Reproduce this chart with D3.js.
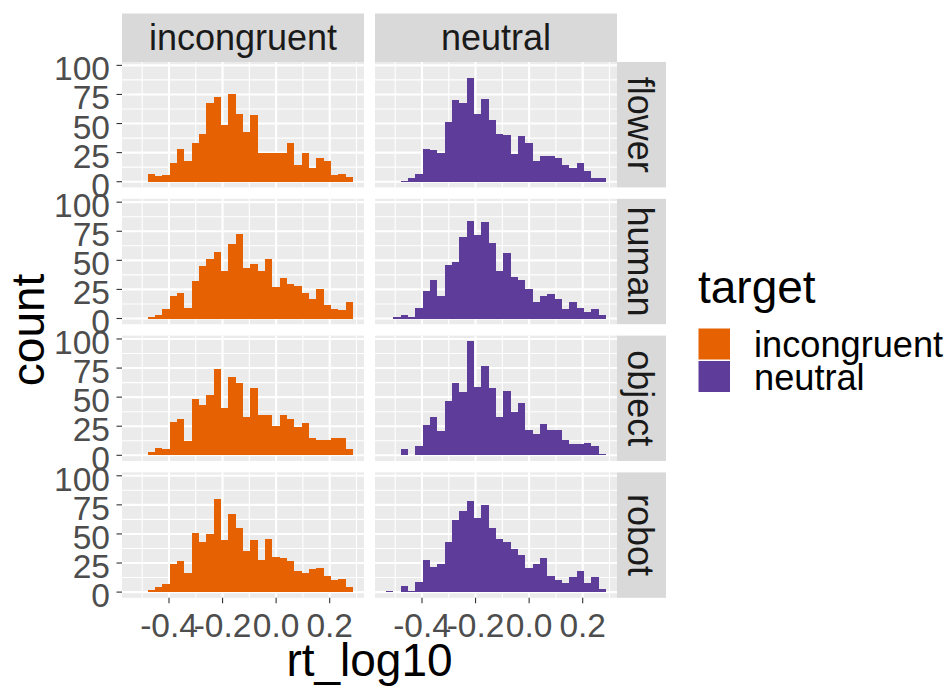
<!DOCTYPE html>
<html>
<head>
<meta charset="utf-8">
<script src="https://cdn.jsdelivr.net/npm/d3@7"></script>
<style>
  body { margin: 0; background: #ffffff; }
  svg { display: block; font-family: "Liberation Sans", Arial, sans-serif; }
</style>
</head>
<body>
<svg id="chart" width="947" height="688"></svg>
<script>
// Facet levels
const targets = ["incongruent", "neutral"];
const categories = ["flower", "human", "object", "robot"];

// Shared histogram bins (30 bins over rt_log10)
const binStart = -0.5344;
const binWidth = 0.02738;
const binCount = 30;

// Counts per bin, one array per facet (category x target)
const flowerIncongruent = [0, 0, 7, 5, 6, 16, 28, 18, 33, 41, 68, 73, 49, 75, 58, 43, 57, 25, 25, 25, 25, 33, 14, 25, 12, 20, 18, 6, 7, 4];
const flowerNeutral     = [0, 0, 1, 3, 7, 28, 27, 25, 51, 70, 68, 89, 58, 71, 53, 41, 40, 24, 39, 33, 18, 22, 22, 20, 14, 12, 16, 9, 3, 3];
const humanIncongruent  = [0, 0, 1, 3, 8, 19, 22, 9, 32, 45, 51, 57, 41, 64, 73, 43, 47, 41, 51, 27, 35, 30, 28, 22, 17, 25, 12, 8, 7, 14];
const humanNeutral      = [0, 1, 3, 1, 9, 24, 33, 19, 46, 49, 70, 84, 72, 83, 65, 41, 56, 36, 33, 25, 14, 19, 21, 17, 8, 14, 9, 6, 8, 3];
const objectIncongruent = [0, 0, 3, 6, 5, 29, 31, 12, 48, 43, 52, 74, 41, 67, 62, 33, 58, 35, 35, 25, 35, 31, 24, 28, 15, 13, 13, 15, 15, 5];
const objectNeutral     = [0, 0, 5, 0, 8, 26, 33, 21, 47, 62, 54, 98, 59, 77, 58, 33, 55, 37, 45, 22, 18, 27, 22, 22, 13, 10, 10, 11, 8, 1];
const robotIncongruent  = [0, 0, 2, 4, 7, 24, 27, 16, 51, 43, 50, 80, 45, 67, 55, 35, 45, 28, 46, 30, 29, 27, 18, 16, 20, 21, 14, 10, 11, 4];
const robotNeutral      = [1, 0, 5, 1, 9, 28, 22, 24, 43, 62, 70, 78, 64, 75, 55, 46, 43, 37, 32, 21, 24, 29, 14, 10, 8, 13, 18, 8, 13, 3];

const countsByFacet = {
  flower: { incongruent: flowerIncongruent, neutral: flowerNeutral },
  human:  { incongruent: humanIncongruent,  neutral: humanNeutral },
  object: { incongruent: objectIncongruent, neutral: objectNeutral },
  robot:  { incongruent: robotIncongruent,  neutral: robotNeutral }
};

// Axis ticks
const xTicks = [-0.4, -0.2, 0.0, 0.2];
const xTickLabels = ["-0.4", "-0.2", "0.0", "0.2"];
const xMinorTicks = [-0.5, -0.3, -0.1, 0.1, 0.3];
const yTicks = [0, 25, 50, 75, 100];
const yTickLabels = ["0", "25", "50", "75", "100"];
const yMinorTicks = [12.5, 37.5, 62.5, 87.5];

const fillColors = { incongruent: "#E66101", neutral: "#5E3C99" };

// ---- layout ----
const panelLeft = 122, panelTop = 62;
const panelW = 242, panelH = 125.4;
const colGap = 11, rowGap = 11.4;
const stripH = 48.5, stripW = 49;

const svg = d3.select("#chart");

// shared scales (ggplot-style 5% expansion)
const binEdges = d3.range(binCount + 1).map(i => binStart + i * binWidth);
const xLo = binEdges[0], xHi = binEdges[binCount];
const xPad = (xHi - xLo) * 0.05;
const x = d3.scaleLinear().domain([xLo - xPad, xHi + xPad]).range([0, panelW]);

const allMax = d3.max(categories.flatMap(c => targets.flatMap(t => countsByFacet[c][t])));
const y = d3.scaleLinear().domain([-allMax * 0.05, allMax * 1.05]).range([panelH, 0]);

const colX = j => panelLeft + j * (panelW + colGap);
const rowY = i => panelTop + i * (panelH + rowGap);

// column strips
targets.forEach((t, j) => {
  const g = svg.append("g").attr("transform", `translate(${colX(j)},${panelTop - stripH})`);
  g.append("rect").attr("width", panelW).attr("height", stripH).attr("fill", "#D9D9D9");
  g.append("text").attr("x", panelW / 2).attr("y", stripH - 12)
    .attr("text-anchor", "middle").attr("font-size", 36).attr("fill", "#1A1A1A").text(t);
});

// row strips
categories.forEach((c, i) => {
  const g = svg.append("g").attr("transform", `translate(${colX(1) + panelW},${rowY(i)})`);
  g.append("rect").attr("width", stripW).attr("height", panelH).attr("fill", "#D9D9D9");
  g.append("text").attr("transform", `translate(11,${panelH / 2}) rotate(90)`)
    .attr("text-anchor", "middle").attr("font-size", 36).attr("fill", "#1A1A1A").text(c);
});

// panels
categories.forEach((c, i) => {
  targets.forEach((t, j) => {
    const g = svg.append("g").attr("transform", `translate(${colX(j)},${rowY(i)})`);
    g.append("rect").attr("width", panelW).attr("height", panelH).attr("fill", "#EBEBEB");

    // minor grid
    g.selectAll(".vminor").data(xMinorTicks).join("line")
      .attr("x1", d => x(d)).attr("x2", d => x(d)).attr("y1", 0).attr("y2", panelH)
      .attr("stroke", "#FFFFFF").attr("stroke-width", 1.1);
    g.selectAll(".hminor").data(yMinorTicks).join("line")
      .attr("y1", d => y(d)).attr("y2", d => y(d)).attr("x1", 0).attr("x2", panelW)
      .attr("stroke", "#FFFFFF").attr("stroke-width", 1.1);
    // major grid
    g.selectAll(".vmajor").data(xTicks).join("line")
      .attr("x1", d => x(d)).attr("x2", d => x(d)).attr("y1", 0).attr("y2", panelH)
      .attr("stroke", "#FFFFFF").attr("stroke-width", 2.1);
    g.selectAll(".hmajor").data(yTicks).join("line")
      .attr("y1", d => y(d)).attr("y2", d => y(d)).attr("x1", 0).attr("x2", panelW)
      .attr("stroke", "#FFFFFF").attr("stroke-width", 2.1);

    // histogram bars (crisp edges so adjacent bins join without seams)
    const counts = countsByFacet[c][t];
    g.append("g").attr("shape-rendering", "crispEdges")
      .selectAll("rect").data(counts.map((n, k) => ({ n, x0: binEdges[k], x1: binEdges[k + 1] })))
      .join("rect")
      .attr("x", d => x(d.x0)).attr("width", d => x(d.x1) - x(d.x0))
      .attr("y", d => y(d.n)).attr("height", d => y(0) - y(d.n))
      .attr("fill", fillColors[t]);

    // y axis on left column
    if (j === 0) {
      const ya = g.append("g");
      ya.selectAll("line").data(yTicks).join("line")
        .attr("x1", -5.5).attr("x2", 0).attr("y1", d => y(d)).attr("y2", d => y(d))
        .attr("stroke", "#333333").attr("stroke-width", 1.1);
      ya.selectAll("text").data(yTicks).join("text")
        .attr("x", -12).attr("y", d => y(d) + 15)
        .attr("text-anchor", "end").attr("font-size", 33.5).attr("fill", "#4D4D4D")
        .text((d, k) => yTickLabels[k]);
    }
    // x axis on bottom row
    if (i === categories.length - 1) {
      const xa = g.append("g").attr("transform", `translate(0,${panelH})`);
      xa.selectAll("line").data(xTicks).join("line")
        .attr("x1", d => x(d)).attr("x2", d => x(d)).attr("y1", 0).attr("y2", 5.5)
        .attr("stroke", "#333333").attr("stroke-width", 1.1);
      xa.selectAll("text").data(xTicks).join("text")
        .attr("x", d => x(d)).attr("y", 39)
        .attr("text-anchor", "middle").attr("font-size", 33.5).attr("fill", "#4D4D4D")
        .text((d, k) => xTickLabels[k]);
    }
  });
});

// axis titles
const plotMidX = (colX(0) + colX(1) + panelW) / 2;
const plotMidY = (rowY(0) + rowY(categories.length - 1) + panelH) / 2;
svg.append("text").attr("x", plotMidX).attr("y", 676)
  .attr("text-anchor", "middle").attr("font-size", 46).attr("fill", "#000").text("rt_log10");
svg.append("text").attr("transform", `translate(44,${plotMidY}) rotate(-90)`)
  .attr("text-anchor", "middle").attr("font-size", 46).attr("fill", "#000").text("count");

// legend
const legend = svg.append("g").attr("transform", "translate(698,0)");
legend.append("text").attr("x", 0).attr("y", 303).attr("font-size", 46).attr("fill", "#000").text("target");
targets.forEach((t, k) => {
  const ky = 328.5 + k * 32.5;
  legend.append("rect").attr("x", 0.5).attr("y", ky).attr("width", 31.5).attr("height", 31)
    .attr("fill", fillColors[t]);
  legend.append("text").attr("x", 56).attr("y", ky + 28.5)
    .attr("font-size", 36.2).attr("fill", "#000").text(t);
});
</script>
</body>
</html>
